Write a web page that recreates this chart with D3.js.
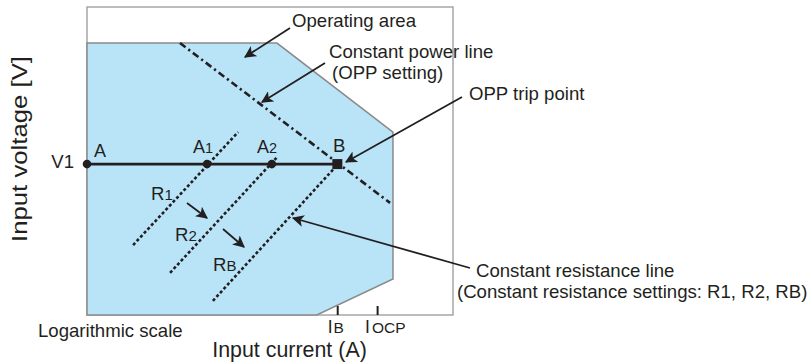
<!DOCTYPE html>
<html><head><meta charset="utf-8">
<script src="https://cdn.jsdelivr.net/npm/d3@7"></script>
<style>
html,body{margin:0;padding:0;background:#fff;}
text{font-family:"Liberation Sans",Arial,Helvetica,sans-serif;fill:#231f20;}
</style></head>
<body>
<svg id="c" width="808" height="362"></svg>
<script>
// ---- data (abstract units, 0..100 on each axis; x is a log-scale current axis) ----
const areaX = [0, 0, 51.9, 83.6, 83.6, 62.8];
const areaY = [0, 88.3, 88.3, 59.4, 11.7, 0];
const v1Level = 49.0;
const pointNames = ["A", "A1", "A2", "B"];
const pointX = [0, 32.8, 50.5, 68.4];
const powerLineX = [25.4, 82.8];
const powerLineY = [88.3, 36.4];
const resistanceNames = ["R1", "R2", "RB"];
const resLowX = [12.6, 22.7, 34.4];
const resLowY = [22.7, 13.7, 4.6];
const resHighX = [41.3, 52.2, 68.6];
const resHighY = [59.4, 51.6, 49.0];
const tickLabels = ["IB", "IOCP"];
const tickX = [68.5, 79.4];

const svg = d3.select("#c");
const x = d3.scaleLinear().domain([0, 100]).range([87, 453]);
const y = d3.scaleLinear().domain([0, 100]).range([315, 7]);
const ink = "#231f20";

const defs = svg.append("defs");
defs.append("marker").attr("id", "ah").attr("viewBox", "0 0 10 10")
  .attr("refX", 9).attr("refY", 5).attr("markerWidth", 12).attr("markerHeight", 12)
  .attr("markerUnits", "userSpaceOnUse").attr("orient", "auto")
  .append("path").attr("d", "M0,0 L10,5 L0,10 L2.5,5 Z").attr("fill", ink);

// frame
svg.append("rect").attr("x", x(0)).attr("y", y(100))
  .attr("width", x(100) - x(0)).attr("height", y(0) - y(100))
  .attr("fill", "none").attr("stroke", "#a0a0a0").attr("stroke-width", 1.4);

// operating area
const areaPts = areaX.map((v, i) => [x(v), y(areaY[i])]);
svg.append("path").attr("d", d3.line()(areaPts) + "Z")
  .attr("fill", "#b9e4f8").attr("stroke", "#8a8a8a").attr("stroke-width", 1.5);

// ticks on bottom
svg.selectAll(".tk").data(tickX).join("line")
  .attr("x1", d => x(d)).attr("x2", d => x(d))
  .attr("y1", y(0)).attr("y2", y(0) - 9)
  .attr("stroke", ink).attr("stroke-width", 2);

// constant resistance lines (dotted)
svg.selectAll(".rl").data(resistanceNames).join("line")
  .attr("x1", (d, i) => x(resLowX[i])).attr("y1", (d, i) => y(resLowY[i]))
  .attr("x2", (d, i) => x(resHighX[i])).attr("y2", (d, i) => y(resHighY[i]))
  .attr("stroke", ink).attr("stroke-width", 2.6).attr("stroke-dasharray", "3,2.3");

// constant power line (dash-dot)
svg.append("line")
  .attr("x1", x(powerLineX[0])).attr("y1", y(powerLineY[0]))
  .attr("x2", x(powerLineX[1])).attr("y2", y(powerLineY[1]))
  .attr("stroke", ink).attr("stroke-width", 2.6).attr("stroke-dasharray", "7,3.5,2.2,3.5");

// V1 operating line
svg.append("line")
  .attr("x1", x(pointX[0])).attr("x2", x(pointX[3]))
  .attr("y1", y(v1Level)).attr("y2", y(v1Level))
  .attr("stroke", ink).attr("stroke-width", 2.6);

// points
svg.selectAll(".pt").data(pointX.slice(0, 3)).join("circle")
  .attr("cx", d => x(d)).attr("cy", y(v1Level)).attr("r", 4.3).attr("fill", ink);
svg.append("rect").attr("x", x(pointX[3]) - 5).attr("y", y(v1Level) - 5)
  .attr("width", 10).attr("height", 10).attr("fill", ink);

// text helper with subscript
function label(tx, ty, main, sub, size, subSize, anchor, subDx) {
  const t = svg.append("text").attr("x", tx).attr("y", ty)
    .attr("font-size", size).attr("text-anchor", anchor || "start");
  t.append("tspan").text(main);
  if (sub) t.append("tspan").attr("font-size", subSize).attr("dx", subDx || 0).text(sub);
  return t;
}

// point labels
label(74, 168, "V1", null, 18.6, 0, "end");
label(94, 157, "A", null, 18);
label(193, 153, "A", "1", 18, 14.5);
label(257, 153, "A", "2", 18, 14.5);
label(333, 152, "B", null, 18.6);

// resistance labels
label(151, 200, "R", "1", 18.6, 15);
label(175, 241, "R", "2", 18.6, 15);
label(213, 271, "R", "B", 18.6, 15);

// tick labels
label(x(tickX[0]) - 10, 333, "I", "B", 17.5, 15.5, "start", 1);
label(x(tickX[1]) - 12.5, 333, "I", "OCP", 17.5, 15.5, "start", 2);

// axis titles
label(38, 337, "Logarithmic scale", null, 18.6);
svg.append("text").attr("x", 289.5).attr("y", 357).attr("font-size", 21.4)
  .attr("text-anchor", "middle").text("Input current (A)");
svg.append("text").attr("transform", "translate(27,149) rotate(-90)")
  .attr("font-size", 21.4).attr("text-anchor", "middle")
  .attr("textLength", 186).attr("lengthAdjust", "spacingAndGlyphs")
  .text("Input voltage [V]");

// annotations
function arrow(x1, y1, x2, y2) {
  svg.append("line").attr("x1", x1).attr("y1", y1).attr("x2", x2).attr("y2", y2)
    .attr("stroke", ink).attr("stroke-width", 1.8).attr("marker-end", "url(#ah)");
}
arrow(187, 203, 207, 218);
arrow(223, 229, 244, 247);
arrow(290, 28, 245, 57);
arrow(325, 63, 262, 102);
arrow(462, 97, 346, 162);
arrow(470, 268, 293, 218);

label(292, 27, "Operating area", null, 18.6);
label(329, 58, "Constant power line", null, 18.6);
label(332, 79, "(OPP setting)", null, 18.6);
label(469, 100, "OPP trip point", null, 18.6);
label(476, 277, "Constant resistance line", null, 18.6);
label(457, 298, "(Constant resistance settings: R1, R2, RB)", null, 18.6);
</script>
</body></html>
